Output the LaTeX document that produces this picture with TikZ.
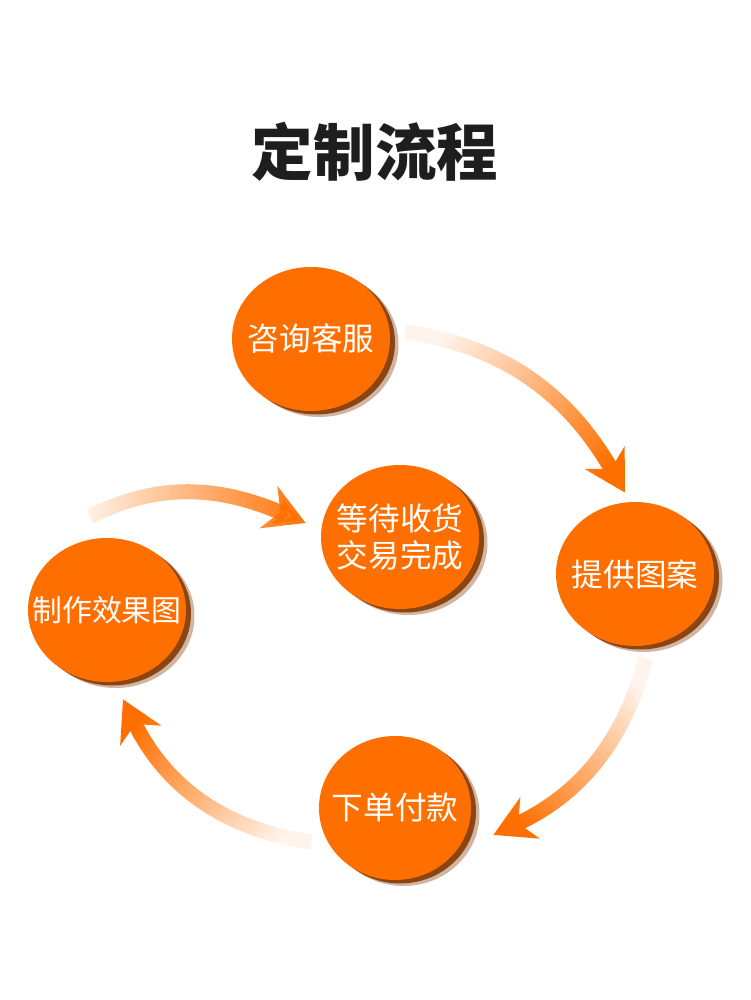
\documentclass[tikz,border=0pt]{standalone}
\usepackage{fontspec}
\newfontfamily\cjk{Noto Sans CJK SC}
\usepackage{xcolor}
\definecolor{Orange}{HTML}{FF6F00}
\definecolor{Shade}{HTML}{8B4513}
\definecolor{Ink}{HTML}{1E1E1E}
\usetikzlibrary{arrows.meta,shapes.geometric,shadows,fadings}
\tikzfading[name=tailfade,left color=transparent!92,right color=transparent!0]
\tikzset{
  stagecircle/.style={ellipse,fill=Orange,minimum width=31.6mm,minimum height=28.8mm,
    inner xsep=-2mm,inner ysep=0pt,align=center,text=white,font=\cjk\fontsize{18}{21}\selectfont,
    drop shadow={fill=Shade!40,opacity=1,shadow xshift=1.7mm,shadow yshift=-1.2mm},
    drop shadow={fill=Shade,opacity=1,shadow xshift=1mm,shadow yshift=-0.7mm}},
  flowarrow/.style={line width=3mm,color=Orange,path fading=tailfade,
    -{Stealth[length=8mm,width=9mm,inset=2.5mm]}}
}
\begin{document}
\begin{tikzpicture}
  \useasboundingbox (0,0) rectangle (15,20);
  \node[font=\cjk\bfseries\fontsize{35}{40}\selectfont,text=Ink] (title) at (7.5,16.96) {定制流程};
  \node[stagecircle] (zixun) at (6.22,13.22) {咨询客服};
  \node[stagecircle] (dengdai) at (8.0,9.26) {等待收货\\交易完成};
  \node[stagecircle] (tigong) at (12.7,8.52) {提供图案};
  \node[stagecircle,inner xsep=-4.2mm,font=\cjk\fontsize{17}{20}\selectfont] (zhizuo) at (2.14,7.8) {制作效果图};
  \node[stagecircle,minimum width=30.4mm] (xiadan) at (7.9,3.84) {下单付款};
  \draw[flowarrow,fading angle=-36] ([shift={(0.3,0.14)}]zixun.east)
    to[out=-8,in=120] ([shift={(-0.2,0.18)}]tigong.north);
  \draw[flowarrow,fading angle=-131] ([shift={(0.22,-0.24)}]tigong.south)
    to[out=-105,in=25] ([shift={(0.44,-0.54)}]xiadan.east);
  \draw[flowarrow,fading angle=143] ([shift={(-0.14,-0.68)}]xiadan.west)
    to[out=172,in=-64] ([shift={(0.32,-0.34)}]zhizuo.south);
  \draw[flowarrow,fading angle=0] ([shift={(-0.34,0.42)}]zhizuo.north)
    to[out=27,in=157] ([shift={(-0.3,0.28)}]dengdai.west);
\end{tikzpicture}
\end{document}
